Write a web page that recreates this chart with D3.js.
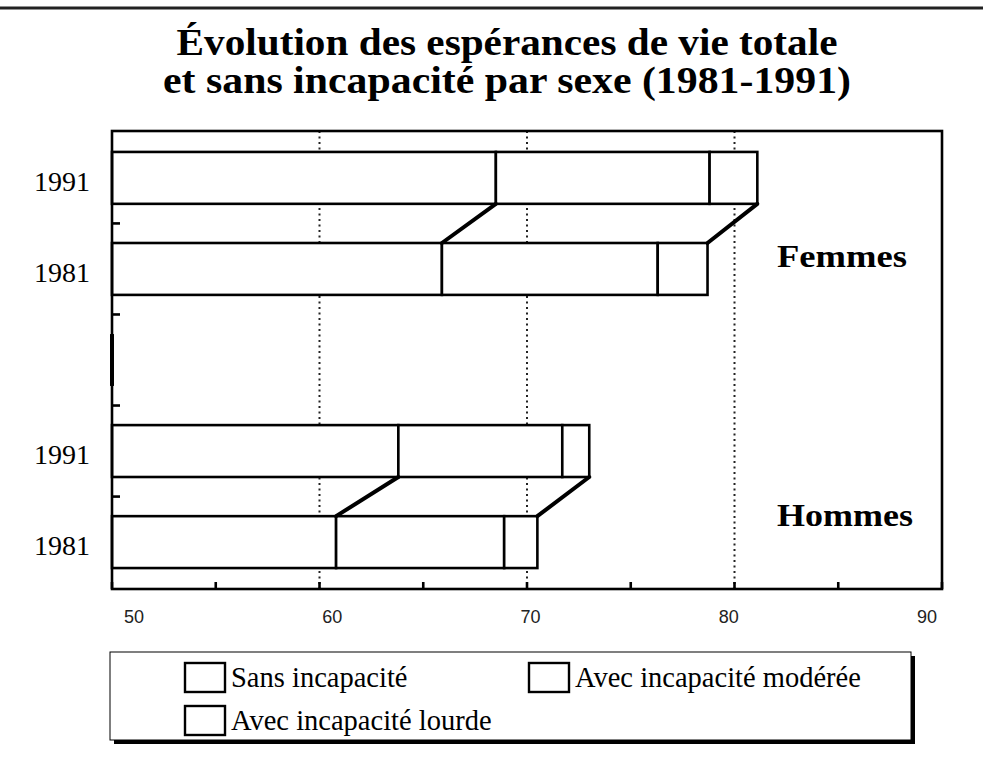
<!DOCTYPE html>
<html><head><meta charset="utf-8">
<script src="https://cdn.jsdelivr.net/npm/d3@7"></script>
<style>html,body{margin:0;padding:0;background:#fff;}svg{display:block;}</style>
</head><body>
<svg id="chart" width="983" height="760"></svg>
<script>
// ---- data ----
const titleLines = ["Évolution des espérances de vie totale", "et sans incapacité par sexe (1981-1991)"];
const slots = ["F1991", "F1981", "gap", "H1991", "H1981"];
const slotLabels = ["1991", "1981", "", "1991", "1981"];
const sansIncapacite = [68.5, 65.9, 50, 63.8, 60.8];
const incapaciteModeree = [10.3, 10.4, 0, 7.9, 8.1];
const incapaciteLourde = [2.3, 2.4, 0, 1.3, 1.6];
const groupNames = ["Femmes", "Hommes"];
const groupSlots = [["F1991", "F1981"], ["H1991", "H1981"]];
const xTicks = [50, 55, 60, 65, 70, 75, 80, 85, 90];
const xTickLabels = [50, 60, 70, 80, 90];
const gridValues = [60, 70, 80];
const legendLabels = ["Sans incapacité", "Avec incapacité modérée", "Avec incapacité lourde"];

// ---- layout ----
const svg = d3.select("#chart");
const L = 112, R = 942, T = 131, B = 589;
const x = d3.scaleLinear().domain([50, 90]).range([L, R]);
const xLabel = d3.scaleLinear().domain([50, 90]).range([134, 927]);
const y = d3.scaleBand().domain(slots).range([T, B]).paddingInner(0.43).paddingOuter(0.23);
const serif = "Liberation Serif, Tinos, Times New Roman, Times, Nimbus Roman, FreeSerif, DejaVu Serif, serif";
const sans = "Liberation Sans, Arial, Helvetica, sans-serif";

// top rule
svg.append("line").attr("x1", 0).attr("x2", 983).attr("y1", 8).attr("y2", 8)
  .attr("stroke", "#222").attr("stroke-width", 3);

// title
const titleWidths = [661, 688];
svg.append("g").selectAll("text").data(titleLines).join("text")
  .attr("x", 507).attr("y", (d, i) => 55 + i * 38)
  .attr("text-anchor", "middle").attr("font-family", serif)
  .attr("font-weight", "bold").attr("font-size", 37).attr("fill", "#000")
  .attr("textLength", (d, i) => titleWidths[i]).attr("lengthAdjust", "spacingAndGlyphs")
  .text(d => d);

// gridlines
svg.append("g").selectAll("line").data(gridValues).join("line")
  .attr("x1", d => x(d)).attr("x2", d => x(d)).attr("y1", T).attr("y2", B)
  .attr("stroke", "#222").attr("stroke-width", 2).attr("stroke-dasharray", "2,3.5");

// bars
const rows = slots.map((s, i) => {
  const a = sansIncapacite[i], b = a + incapaciteModeree[i], c = b + incapaciteLourde[i];
  return { slot: s, segs: [[50, a], [a, b], [b, c]], sans: a, total: c };
});
const barG = svg.append("g");
rows.forEach(r => {
  if (r.total <= 50) {
    barG.append("line").attr("x1", x(50)).attr("x2", x(50))
      .attr("y1", y(r.slot)).attr("y2", y(r.slot) + y.bandwidth())
      .attr("stroke", "#000").attr("stroke-width", 4);
    return;
  }
  barG.selectAll(null).data(r.segs).join("rect")
    .attr("x", d => x(d[0])).attr("width", d => x(d[1]) - x(d[0]))
    .attr("y", y(r.slot)).attr("height", y.bandwidth())
    .attr("fill", "#fff").attr("stroke", "#000").attr("stroke-width", 2.6);
});

// connectors between 1991 and 1981
const byslot = Object.fromEntries(rows.map(r => [r.slot, r]));
const connG = svg.append("g");
groupSlots.forEach(([s91, s81]) => {
  ["sans", "total"].forEach(k => {
    connG.append("line")
      .attr("x1", x(byslot[s91][k])).attr("y1", y(s91) + y.bandwidth())
      .attr("x2", x(byslot[s81][k])).attr("y2", y(s81))
      .attr("stroke", "#000").attr("stroke-width", 4).attr("stroke-linecap", "round");
  });
});

// frame
svg.append("rect").attr("x", L).attr("y", T).attr("width", R - L).attr("height", B - T)
  .attr("fill", "none").attr("stroke", "#000").attr("stroke-width", 2.6);

// x ticks (inward)
svg.append("g").selectAll("line").data(xTicks).join("line")
  .attr("x1", d => x(d)).attr("x2", d => x(d)).attr("y1", B).attr("y2", B - 7)
  .attr("stroke", "#000").attr("stroke-width", 2.6);
svg.append("g").selectAll("text").data(xTickLabels).join("text")
  .attr("x", d => xLabel(d)).attr("y", 623).attr("text-anchor", "middle")
  .attr("font-family", sans).attr("font-size", 18).attr("fill", "#222")
  .text(d => d);

// y ticks at slot boundaries (inward)
const boundaries = slots.slice(1).map(s => y(s) - y.step() * y.paddingInner() / 2);
svg.append("g").selectAll("line").data(boundaries).join("line")
  .attr("x1", L).attr("x2", L + 8).attr("y1", d => d).attr("y2", d => d)
  .attr("stroke", "#000").attr("stroke-width", 2.6);

// y labels
svg.append("g").selectAll("text").data(slots).join("text")
  .attr("x", 90).attr("y", d => y(d) + y.bandwidth() / 2 + 13)
  .attr("text-anchor", "end").attr("font-family", serif).attr("font-size", 28).attr("fill", "#000")
  .text((d, i) => slotLabels[i]);

// group labels
const groupWidths = [130, 136];
svg.append("g").selectAll("text").data(groupNames).join("text")
  .attr("x", (d, i) => i === 0 ? 842 : 845)
  .attr("y", (d, i) => i === 0 ? (y(groupSlots[i][1]) + 24) : (y(groupSlots[i][1]) + 10))
  .attr("text-anchor", "middle").attr("font-family", serif).attr("font-weight", "bold")
  .attr("font-size", 31).attr("fill", "#000")
  .attr("textLength", (d, i) => groupWidths[i]).attr("lengthAdjust", "spacingAndGlyphs")
  .text(d => d);

// legend
const lg = svg.append("g");
lg.append("rect").attr("x", 114).attr("y", 656).attr("width", 801).attr("height", 88).attr("fill", "#000");
lg.append("rect").attr("x", 110).attr("y", 652).attr("width", 801).attr("height", 88)
  .attr("fill", "#fff").attr("stroke", "#000").attr("stroke-width", 1);
const legendPos = [[185, 663], [529, 663], [185, 706]];
legendLabels.forEach((lab, i) => {
  const [lx, ly] = legendPos[i];
  lg.append("rect").attr("x", lx).attr("y", ly).attr("width", 40).attr("height", 29)
    .attr("fill", "#fff").attr("stroke", "#000").attr("stroke-width", 2.4);
  lg.append("text").attr("x", lx + 46).attr("y", ly + 24)
    .attr("font-family", serif).attr("font-size", 28.5).attr("fill", "#000").text(lab);
});
</script>
</body></html>
